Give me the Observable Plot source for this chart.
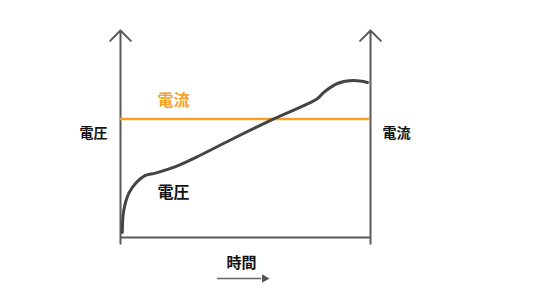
<!DOCTYPE html>
<html>
<head>
<meta charset="utf-8">
<script src="https://cdn.jsdelivr.net/npm/d3@7"></script>
<script src="https://cdn.jsdelivr.net/npm/@observablehq/plot@0.6"></script>
<style>
  body { margin: 0; background: #fff; }
</style>
</head>
<body>
<div id="chart"></div>
<script>
// Voltage curve (time vs voltage)
const times    = [0.7, 1.3, 3.3, 6.0, 10.0, 14.0, 22.0, 30.0, 44.0, 61.3, 78.7, 81.2, 86.8, 93.2, 98.8];
const voltages = [2.4, 13.0, 21.3, 26.1, 30.0, 31.1, 34.2, 38.6, 47.1, 57.3, 67.0, 70.0, 74.4, 75.8, 74.9];
// Current: constant level
const currentLevel = 57.2;
// Labels
const leftAxisLabel = "電圧";
const rightAxisLabel = "電流";
const currentLabel = "電流";
const voltageLabel = "電圧";
const timeLabel = "時間";

const voltageData = times.map((t, i) => ({t, v: voltages[i]}));
const font = "'Noto Sans CJK JP', 'Noto Sans', sans-serif";

const chart = Plot.plot({
  width: 550,
  height: 300,
  marginLeft: 120,
  marginRight: 180,
  marginTop: 30,
  marginBottom: 63,
  x: {domain: [0, 100], axis: null},
  y: {domain: [0, 100], axis: null},
  style: {fontFamily: font, background: "#fff"},
  marks: [
    // axes
    Plot.arrow([{x: 0, y1: -3, y2: 100}, {x: 100, y1: -3, y2: 100}], {
      x1: "x", x2: "x", y1: "y1", y2: "y2",
      stroke: "#5a5a5a", strokeWidth: 2, headAngle: 90, headLength: 11
    }),
    Plot.ruleY([0], {x1: 0, x2: 100, stroke: "#5a5a5a", strokeWidth: 2}),
    // current
    Plot.ruleY([currentLevel], {x1: 0, x2: 100, stroke: "#f5a124", strokeWidth: 2.5}),
    // voltage
    Plot.line(voltageData, {x: "t", y: "v", curve: "catmull-rom", stroke: "#444", strokeWidth: 3}),
    // labels
    Plot.text([leftAxisLabel], {x: -10.8, y: 50.2, text: d => d, fontSize: 14, fontWeight: "bold", fill: "#111"}),
    Plot.text([rightAxisLabel], {x: 110.4, y: 50.2, text: d => d, fontSize: 14, fontWeight: "bold", fill: "#111"}),
    Plot.text([currentLabel], {x: 21.2, y: 66.2, text: d => d, fontSize: 16, fontWeight: "bold", fill: "#f5a124"}),
    Plot.text([voltageLabel], {x: 21.2, y: 21.7, text: d => d, fontSize: 16, fontWeight: "bold", fill: "#111"}),
    Plot.text([timeLabel], {x: 48.4, y: -12.3, text: d => d, fontSize: 15, fontWeight: "bold", fill: "#111"}),
    // time arrow
    Plot.ruleY([-19.8], {x1: 38.8, x2: 56.5, stroke: "#666", strokeWidth: 1.5}),
    Plot.dot([{x: 57.6, y: -19.8}], {x: "x", y: "y", symbol: "triangle", rotate: 90, r: 3.2, fill: "#555", stroke: "none"})
  ]
});
document.getElementById("chart").appendChild(chart);
</script>
</body>
</html>
